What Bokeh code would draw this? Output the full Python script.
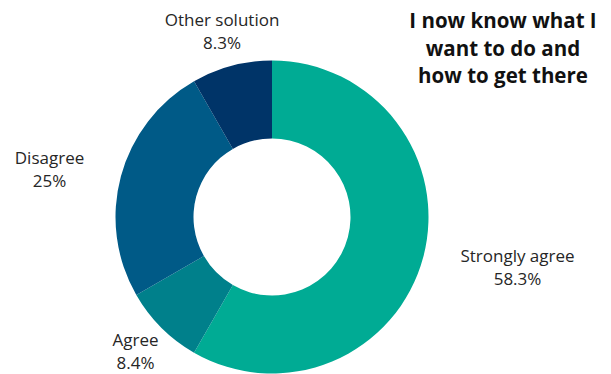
import numpy as np
from bokeh.plotting import figure
from bokeh.models import ColumnDataSource, Range1d
from bokeh.core.properties import value
from bokeh.embed import file_html
from bokeh.resources import INLINE

categories = ["Strongly agree", "Agree", "Disagree", "Other solution"]
pct_labels = ["58.3%", "8.4%", "25%", "8.3%"]
values = [58.3, 8.4, 25.0, 8.3]
colors = ["#00AB94", "#00808B", "#005A87", "#003468"]
title_lines = ["I now know what I", "want to do and", "how to get there"]

W, H = 611, 374
CX, CY = 271.5, H - 216.5
R_OUT, R_IN = 156.5, 78.5
# label centre offsets from the donut centre (pixels, y up)
label_dx = [245.5, -136.5, -222.5, -50.0]
label_dy = [-50.0, -133.5, 48.5, 186.0]
LINE_GAP = 11.5

vals = np.array(values)
frac = vals / vals.sum()
cum = np.concatenate([[0], np.cumsum(frac)])
start = np.pi / 2 - cum[:-1] * 2 * np.pi
end = np.pi / 2 - cum[1:] * 2 * np.pi

src = ColumnDataSource(dict(start=start, end=end, color=colors, cat=categories))

p = figure(width=W, height=H, output_backend="svg", toolbar_location=None,
           x_range=Range1d(0, W), y_range=Range1d(0, H), min_border=0)
p.axis.visible = False
p.grid.visible = False
p.outline_line_color = None
p.background_fill_color = "white"
p.border_fill_color = "white"

p.annular_wedge(x=CX, y=CY, inner_radius=R_IN, outer_radius=R_OUT,
                start_angle="end", end_angle="start", direction="anticlock",
                fill_color="color", line_color=None, source=src)

lx = CX + np.array(label_dx)
ly = CY + np.array(label_dy)
lab = ColumnDataSource(dict(x=lx, y1=ly + LINE_GAP, y2=ly - LINE_GAP, cat=categories, pct=pct_labels))
common = dict(text_font=value("Open Sans"), text_font_size="17px", text_color="#262626",
              text_align="center", text_baseline="middle", source=lab)
p.text(x="x", y="y1", text="cat", **common)
p.text(x="x", y="y2", text="pct", **common)

tsrc = ColumnDataSource(dict(x=[502.5] * 3, y=[H - 19.5, H - 47, H - 74.5], t=title_lines))
p.text(x="x", y="y", text="t", source=tsrc, text_font=value("Open Sans"),
       text_font_size="20.5px", text_font_style="bold", text_color="#111111",
       text_align="center", text_baseline="middle")

open("out.html", "w").write(file_html(p, INLINE))
